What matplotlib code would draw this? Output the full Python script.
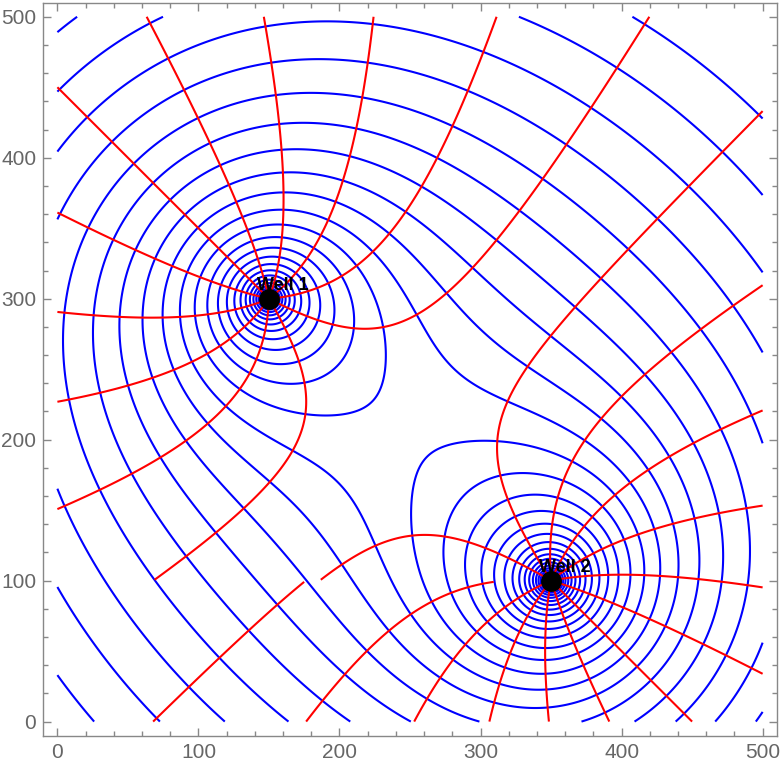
import numpy as np
import matplotlib.pyplot as plt
from matplotlib.ticker import MultipleLocator

# wells and relative pumping rates
well_names = ['Well 1', 'Well 2']
well_x = [150, 350]
well_y = [300, 100]
well_q = [1.0, 1.165]

# contour settings
head_step = 0.2095            # spacing of the head contours
head_k = list(range(36, 62))  # which multiples of head_step are drawn
stream_step = 32.475          # spacing of the streamlines (degrees)
stream_k = list(range(-9, 11))

ticks = [0, 100, 200, 300, 400, 500]

x = np.linspace(0, 500, 1000)
y = np.linspace(0, 500, 1000)
X, Y = np.meshgrid(x, y)

head = np.zeros_like(X)
stream = np.zeros_like(X)
for wx, wy, q in zip(well_x, well_y, well_q):
    head += q * np.log(np.hypot(X - wx, Y - wy))
    stream += q * np.degrees(np.arctan2(Y - wy, X - wx))

# mask the arctan branch cuts so no lines run along them
dy = y[1] - y[0]
cut = np.zeros_like(X, dtype=bool)
for wx, wy in zip(well_x, well_y):
    cut |= (np.abs(Y - wy) < dy) & (X < wx)
stream = np.ma.masked_array(stream, cut)

stream_levels = [stream_step * k for k in stream_k]
head_levels = [head_step * k for k in head_k]

fig = plt.figure(figsize=(7.8, 7.66), dpi=100)
ax = fig.add_axes([0.0555, 0.0396, 0.9403, 0.9569])

ax.contour(X, Y, head, levels=head_levels, colors='#0000ff',
           linewidths=1.5, linestyles='solid')
ax.contour(X, Y, stream, levels=stream_levels, colors='#ff0000',
           linewidths=1.5, linestyles='solid')

for name, wx, wy in zip(well_names, well_x, well_y):
    ax.plot(wx, wy, 'o', color='black', markersize=14, zorder=5)
    ax.annotate(name, (wx, wy), xytext=(10, 9.5), textcoords='offset points',
                ha='center', va='center', fontsize=13, fontweight='bold',
                family='Liberation Sans', zorder=6)

ax.set_xlim(-10, 510)
ax.set_ylim(-10, 510)
ax.set_xticks(ticks)
ax.set_yticks(ticks)
ax.xaxis.set_minor_locator(MultipleLocator(20))
ax.yaxis.set_minor_locator(MultipleLocator(20))
ax.tick_params(which='both', direction='in', top=True, right=True,
               color='#888888', width=1)
ax.tick_params(which='major', length=6, labelsize=15, labelcolor='#666666', pad=5)
ax.tick_params(which='minor', length=3.5)
for lab in ax.get_xticklabels() + ax.get_yticklabels():
    lab.set_family('Liberation Sans')
for sp in ax.spines.values():
    sp.set_color('#888888')
    sp.set_linewidth(1)

fig.savefig('out.png', dpi=100)
